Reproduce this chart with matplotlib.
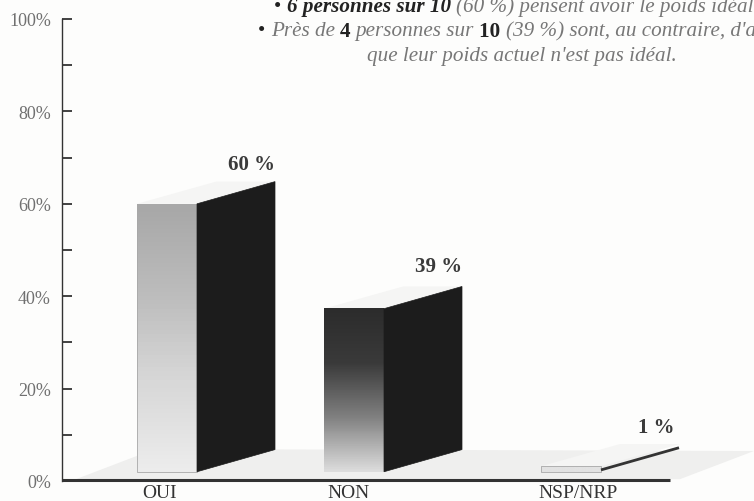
import numpy as np
import matplotlib
matplotlib.use("Agg")
import matplotlib.pyplot as plt
from matplotlib.patches import Polygon, Rectangle
from matplotlib.colors import LinearSegmentedColormap

# Data
categories = ["OUI", "NON", "NSP/NRP"]
bar_tops = [60.0, 37.3, 3.2]            # drawn height on the axis scale
value_labels = ["60 %", "39 %", "1 %"]
y_ticks = [0, 20, 40, 60, 80, 100]
y_minor = [10, 30, 50, 70, 90]
y_labels = ["0%", "20%", "40%", "60%", "80%", "100%"]

# Layout (pixels, % units)
W, H = 754, 502
AX_L, AX_B, AX_T = 62, 482, 20
BASE = 2.0
front_left = [137, 324, 541]
front_w = 60
depth_x, depth_y = 79, 4.8
top_cols = [["#a8a8a8", "#bcbcbc", "#d8d8d8", "#ececec"],
            ["#2c2c2c", "#3a3a3a", "#808080", "#dcdcdc"],
            ["#e2e2e2", "#e2e2e2", "#e2e2e2", "#e2e2e2"]]
edge_cols = ["#a8a8a8", "none", "#a8a8a8"]
label_x = [251, 439, 656]
label_y_px = [165, 267, 428]
cat_x = [160, 349, 578]

BG = "#fdfdfc"
fig = plt.figure(figsize=(W / 100, H / 100), dpi=100, facecolor=BG)
ax = fig.add_axes([AX_L / W, 1 - AX_B / H, (W - AX_L) / W, (AX_B - AX_T) / H], facecolor="none")
SERIF = "Liberation Serif"
plt.rcParams["font.family"] = [SERIF, "DejaVu Serif"]

def py(px):
    return (AX_B - px) / (AX_B - AX_T) * 100

# floor
ax.add_patch(Polygon([(76, 0.4), (155, py(450)), (W, py(452)), (680, 0.4)],
                     closed=True, fc="#efefee", ec="none", zorder=1, clip_on=False))

for i, (left, top) in enumerate(zip(front_left, bar_tops)):
    r = left + front_w
    # soft top face
    ax.add_patch(Polygon([(left, top), (left + depth_x, top + depth_y),
                          (r + depth_x, top + depth_y), (r, top)],
                         closed=True, fc="#f5f5f4", ec="none", zorder=2))
    # front with vertical gradient
    cmap = LinearSegmentedColormap.from_list("g", top_cols[i])
    ax.imshow(np.linspace(0, 1, 64)[:, None], cmap=cmap, aspect="auto",
              extent=(left, r, BASE, top), origin="upper", zorder=3)
    ax.add_patch(Rectangle((left, BASE), front_w, top - BASE, fc="none",
                           ec=edge_cols[i], lw=0.6, zorder=4))
    # side
    if i < 2:
        ax.add_patch(Polygon([(r, BASE), (r, top), (r + depth_x - 1, top + depth_y),
                              (r + depth_x - 1, BASE + depth_y)],
                             closed=True, fc="#1c1c1c", ec="#1c1c1c", lw=0.5, zorder=4))
    else:
        ax.plot([r, r + depth_x - 1], [BASE + 0.4, BASE + 0.4 + depth_y],
                color="#333333", lw=2.0, zorder=4, solid_capstyle="butt")
    ax.text(label_x[i], py(label_y_px[i]), value_labels[i], ha="center", va="center",
            family=SERIF, fontweight="bold", fontsize=15, color="#3a3a3a", zorder=6)
    ax.text(cat_x[i], py(493.5), categories[i], ha="center", va="center", family=SERIF,
            fontsize=14, color="#333333", clip_on=False, zorder=6)
ax.set_xlim(AX_L, W)
ax.set_ylim(0, 100)

# axes
for s in ("top", "right", "bottom"):
    ax.spines[s].set_visible(False)
ax.spines["left"].set_color("#333333")
ax.spines["left"].set_linewidth(1.0)
ax.plot([AX_L, 670], [0.2, 0.2], color="#333333", lw=2.2, zorder=5, clip_on=False,
        solid_capstyle="butt")
ax.set_xticks([])
ax.set_yticks(y_ticks, y_labels)
ax.set_yticks(y_minor, minor=True)
ax.tick_params(axis="y", which="both", direction="in", length=7, width=1.3, color="#333333",
               pad=8, labelsize=13, labelcolor="#707070")
for t in ax.get_yticklabels():
    t.set_family(SERIF)

# header with mixed text runs
GREY, DARK = "#777777", "#222222"
line1 = [("• ", DARK, "normal", "normal"),
         ("6 personnes sur 10 ", DARK, "italic", "bold"),
         ("(60 %) pensent avoir le poids idéal", GREY, "italic", "normal")]
line2 = [("• ", DARK, "normal", "normal"),
         ("Près de ", GREY, "italic", "normal"),
         ("4 ", DARK, "normal", "bold"),
         ("personnes sur ", GREY, "italic", "normal"),
         ("10 ", DARK, "normal", "bold"),
         ("(39 %) sont, au contraire, d'avis", GREY, "italic", "normal")]
line3 = [("que leur poids actuel n'est pas idéal.", GREY, "italic", "normal")]

HEAD_FS = 15.2

def runs(parts, x, y):
    fig.canvas.draw_idle()
    rend = fig.canvas.get_renderer()
    for txt, col, style, weight in parts:
        t = fig.text(x / W, 1 - y / H, txt.replace(" ", "\u00a0"), color=col, style=style,
                     weight=weight, family=SERIF, fontsize=HEAD_FS, va="center", ha="left")
        x = t.get_window_extent(rend).x1

runs(line1, 274, 7)
runs(line2, 258, 32)
runs(line3, 367, 57)

fig.savefig("out.png", dpi=100, facecolor=BG)
